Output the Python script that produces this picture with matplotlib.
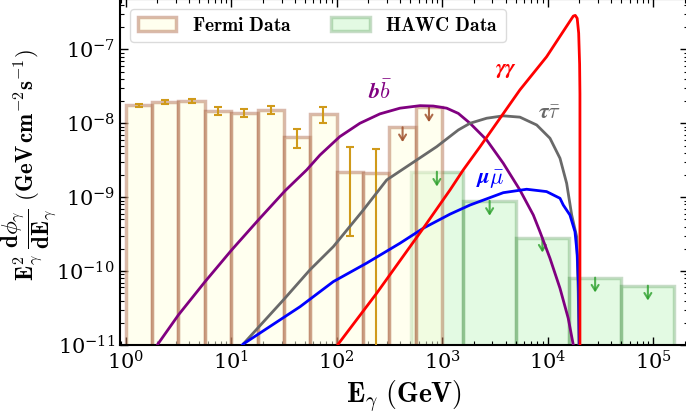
import numpy as np
import matplotlib
matplotlib.use("Agg")
import matplotlib.pyplot as plt

plt.rcParams['mathtext.fontset'] = 'cm'
plt.rcParams['font.family'] = ['DejaVu Serif']

# Fermi bins (GeV) and E^2 dphi/dE values
fermi_edges = [1.0, 1.78, 3.16, 5.62, 10.0, 17.8, 31.6, 56.2, 100.0, 178.0, 316.0, 562.0, 1000.0]
fermi_flux = [1.77e-8, 1.92e-8, 2.02e-8, 1.47e-8, 1.39e-8, 1.53e-8, 6.46e-9, 1.34e-8,
              2.21e-9, 2.10e-9, 8.83e-9, 1.64e-8]
fermi_err_lo = [1.64e-8, 1.81e-8, 1.88e-8, 1.29e-8, 1.23e-8, 1.34e-8, 4.59e-9, 1.02e-8,
                2.99e-10, 1e-13]
fermi_err_hi = [1.82e-8, 2.07e-8, 2.15e-8, 1.64e-8, 1.56e-8, 1.73e-8, 8.45e-9, 1.68e-8,
                4.82e-9, 4.45e-9]
fermi_uplim = [False] * 10 + [True, True]

# HAWC bins (GeV), all upper limits
hawc_edges = [501.0, 1585.0, 5012.0, 15850.0, 50120.0, 158500.0]
hawc_flux = [2.21e-9, 8.9e-10, 2.83e-10, 8.15e-11, 6.34e-11]

# DM annihilation spectra (m = 20 TeV)
bb_E = [1.9, 2.01, 3.16, 5.65, 10.1, 18.1, 32.4, 52.0, 69.5, 107, 166, 257, 398, 617, 824,
        1104, 1422, 1837, 2642, 3793, 5458, 7311, 8453, 10520, 13090, 15670, 17500, 18200]
bb_F = [8.5e-12, 1.02e-11, 2.55e-11, 7.19e-11, 1.93e-10, 4.92e-10, 1.22e-9, 2.34e-9, 3.72e-9,
        6.59e-9, 1.0e-8, 1.34e-8, 1.60e-8, 1.73e-8, 1.71e-8, 1.60e-8, 1.36e-8, 1.0e-8,
        5.94e-9, 2.88e-9, 1.25e-9, 5.74e-10, 3.41e-10, 1.49e-10, 5.85e-11, 2.30e-11,
        1.0e-11, 5e-12]
tau_E = [12.3, 13.0, 31.2, 55.8, 92.9, 179, 298, 573, 887, 1422, 1837, 2642, 3793, 5458,
         7870, 10520, 13090, 15140, 16900, 18840, 19500, 19950]
tau_F = [9e-12, 1.03e-11, 4.06e-11, 1.04e-10, 2.14e-10, 6.71e-10, 1.71e-9, 3.18e-9, 4.82e-9,
         8.11e-9, 1.0e-8, 1.17e-8, 1.26e-8, 1.21e-8, 9.48e-9, 6.27e-9, 3.36e-9, 1.54e-9,
         5.74e-10, 2.92e-10, 5e-11, 5e-12]
mu_E = [12.3, 13.0, 45.0, 92.9, 192, 398, 662, 1186, 1837, 3793, 6324, 9772, 13090, 14060,
        16260, 18160, 19100, 19680, 19950, 20000]
mu_F = [9.5e-12, 1.03e-11, 3.3e-11, 7.2e-11, 1.28e-10, 2.38e-10, 3.8e-10, 5.89e-10, 7.83e-10,
        1.15e-9, 1.28e-9, 1.19e-9, 9.66e-10, 7.83e-10, 5.74e-10, 3.41e-10, 1.65e-10,
        5.85e-11, 1.0e-11, 5e-12]
gg_E = [100, 103.5, 239, 662, 1186, 1585, 2280, 5458, 9770, 17500, 18280, 19050, 19680,
        20090, 20230, 20230]
gg_F = [9.5e-12, 1.03e-11, 5.0e-11, 3.8e-10, 1.25e-9, 2.34e-9, 4.79e-9, 2.83e-8, 7.94e-8,
        2.82e-7, 2.88e-7, 2.63e-7, 1.66e-7, 6.3e-8, 2.5e-8, 5e-12]

fig = plt.figure(figsize=(6.86, 4.15), dpi=100)
ax = fig.add_axes([120 / 686, 70 / 415, 568 / 686, 346 / 415])
ax.set_xscale('log')
ax.set_yscale('log')

fe = np.array(fermi_edges)
he = np.array(hawc_edges)

ax.bar(he[:-1], hawc_flux, width=np.diff(he), align='edge',
       facecolor=(0.565, 0.933, 0.565, 0.25), edgecolor=(0.0, 0.39, 0.0, 0.22),
       linewidth=2.5, label=r'$\mathbf{HAWC\ Data}$', zorder=1)
ax.bar(fe[:-1], fermi_flux, width=np.diff(fe), align='edge',
       facecolor=(1.0, 1.0, 0.88, 0.5), edgecolor=(0.63, 0.32, 0.18, 0.4),
       linewidth=2.5, label=r'$\mathbf{Fermi\ Data}$', zorder=2)

centers = np.sqrt(fe[:-1] * fe[1:])
n = len(fermi_err_lo)
yv = np.array(fermi_flux[:n])
ax.errorbar(centers[:n], yv,
            yerr=[yv - np.array(fermi_err_lo), np.array(fermi_err_hi) - yv],
            fmt='none', ecolor='#d09a1a', elinewidth=1.5, capsize=3, capthick=1.5, zorder=3)

for c, f, ul in zip(centers, fermi_flux, fermi_uplim):
    if ul:
        ax.annotate('', xy=(c, f * 10 ** -0.2), xytext=(c, f),
                    arrowprops=dict(arrowstyle='->,head_length=0.4,head_width=0.25',
                                    color='#a0522d', alpha=0.85, lw=1.5, shrinkA=0, shrinkB=0),
                    zorder=3)

hc = np.sqrt(he[:-1] * he[1:])
for c, f in zip(hc, hawc_flux):
    ax.annotate('', xy=(c, f * 10 ** -0.2), xytext=(c, f),
                arrowprops=dict(arrowstyle='->,head_length=0.4,head_width=0.25',
                                color='#2ca02c', alpha=0.8, lw=1.5, shrinkA=0, shrinkB=0),
                zorder=3)

ax.plot(bb_E, bb_F, color='purple', lw=2, zorder=4)
ax.plot(tau_E, tau_F, color='dimgray', lw=2, zorder=4)
ax.plot(mu_E, mu_F, color='blue', lw=2, zorder=4)
ax.plot(gg_E, gg_F, color='red', lw=2, zorder=4)

ax.text(257, 2.65e-8, r'$\boldsymbol{b\bar{b}}$', color='purple', fontsize=16, ha='center', va='center')
ax.text(4025, 5.43e-8, r'$\boldsymbol{\gamma\gamma}$', color='red', fontsize=16, ha='center', va='center')
ax.text(10290, 1.38e-8, r'$\boldsymbol{\tau\bar{\tau}}$', color='dimgray', fontsize=16, ha='center', va='center')
ax.text(2840, 1.71e-9, r'$\boldsymbol{\mu\bar{\mu}}$', color='blue', fontsize=16, ha='center', va='center')

ax.set_xlim(0.883, 2.14e5)
ax.set_ylim(1e-11, 4.8e-7)

ax.set_xlabel(r'$\mathbf{E}_\gamma\ \mathbf{(GeV)}$', fontsize=20)
ax.set_ylabel(r'$\mathbf{E}_\gamma^\mathbf{2}\ \dfrac{\mathbf{d}\phi_\gamma}{\mathbf{dE}_\gamma}\ \mathbf{(GeV\,cm^{-2}s^{-1})}$',
              fontsize=16.5)
ax.yaxis.set_label_coords(-0.108, 0.52)

ax.tick_params(which='both', direction='in', top=True, right=True, labelsize=15)
ax.tick_params(which='major', length=6, width=1)
ax.tick_params(which='minor', length=3, width=0.8)
for s in ax.spines.values():
    s.set_linewidth(1.5)

handles, labels = ax.get_legend_handles_labels()
ax.legend(handles[::-1], labels[::-1], loc='upper left', ncol=2, fontsize=14,
          frameon=True, edgecolor='lightgray')

fig.savefig('out.png', dpi=100)
